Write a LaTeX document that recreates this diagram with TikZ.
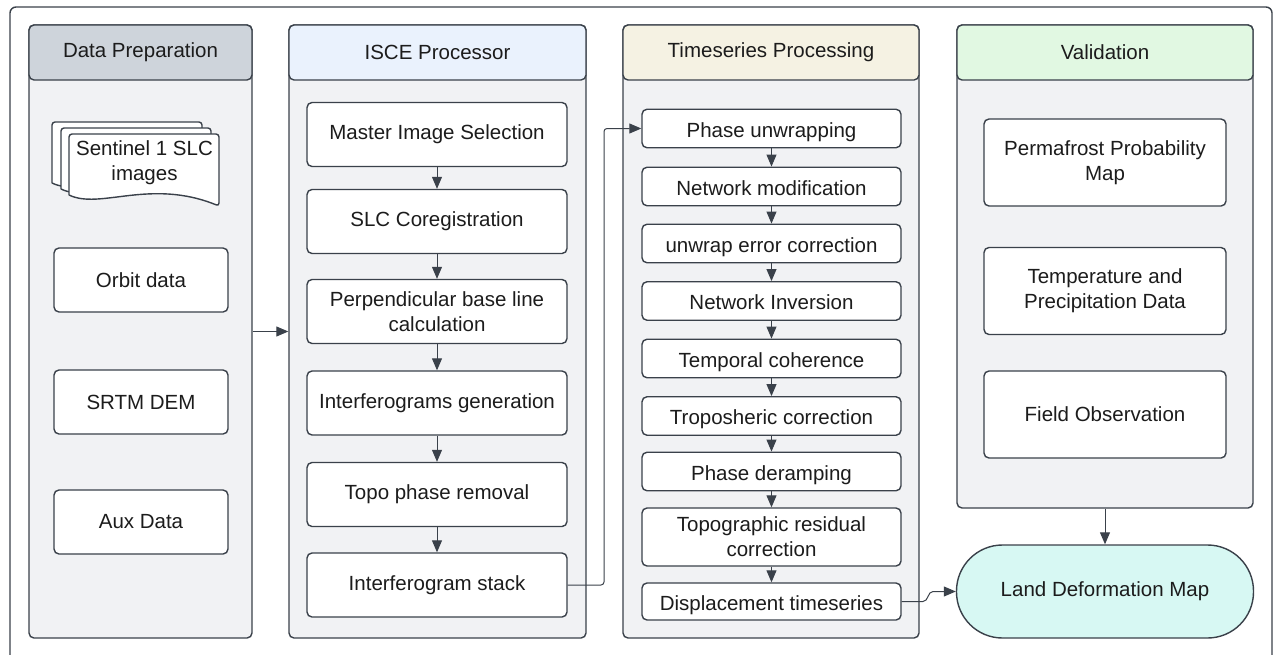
\documentclass[tikz,border=0pt]{standalone}
\usepackage{fontspec}
\setmainfont{Liberation Sans}
\usetikzlibrary{positioning, arrows.meta}
\definecolor{edge}{HTML}{3A414A}
\definecolor{txt}{HTML}{1C1C1C}
\definecolor{lanebg}{HTML}{F1F2F4}
\definecolor{dphead}{HTML}{CED4DB}
\definecolor{iscehead}{HTML}{EAF2FD}
\definecolor{tshead}{HTML}{F5F2E3}
\definecolor{valhead}{HTML}{E1F8E2}
\definecolor{landbg}{HTML}{D7F8F3}
\tikzset{
  every node/.style={font=\fontsize{20.5}{25}\selectfont, text=txt},
  lane/.style={draw=edge, line width=1.4pt, fill=lanebg, rounded corners=5pt, inner sep=0pt},
  head/.style={draw=edge, line width=1.4pt, rounded corners=5pt, minimum height=55pt, inner sep=0pt},
  stepbox/.style={draw=edge, line width=1.4pt, fill=white, rounded corners=5pt, align=center, inner sep=0pt},
  tsbox/.style={stepbox, minimum width=259pt, minimum height=38.5pt, text height=19pt, text depth=1.3pt},
  page/.style={draw=edge, line width=1.4pt, fill=white, rounded corners=3pt},
  arr/.style={draw=edge, line width=1pt, -{Triangle[length=12pt,width=10pt]}}}
% one sheet of the SLC stack, top left corner at (#1,#2)
\newcommand{\slcpage}[2]{\draw[page] (#1,#2+61) -- (#1,#2) -- (#1+150,#2) -- (#1+150,#2+72) .. controls (#1+81,#2+44) and (#1+31,#2+76) .. (#1,#2+61);}

\begin{document}
\begin{tikzpicture}[x=1pt,y=-1pt]
\clip (0,0) rectangle (1277,654);
\draw[edge, line width=1.4pt, rounded corners=6pt] (10,7) rectangle (1272,670);

% lanes
\node[lane, minimum width=223pt, minimum height=613pt] (dp) at (140.5,331.5) {};
\node[lane, minimum width=297pt, minimum height=613pt] (isce) at (437.5,331.5) {};
\node[lane, minimum width=296pt, minimum height=613pt] (ts) at (771,331.5) {};
\node[lane, minimum width=296pt, minimum height=483pt] (val) at (1105,266.5) {};
\node[head, fill=dphead, minimum width=223pt] (dph) at (140.5,52.5) {Data Preparation};
\node[head, fill=iscehead, minimum width=297pt] (isceh) at (437.5,52.5) {ISCE Processor};
\node[head, fill=tshead, minimum width=296pt] (tsh) at (771,52.5) {Timeseries Processing};
\node[head, fill=valhead, minimum width=296pt] (valh) at (1105,52.5) {Validation};

% data preparation
\slcpage{52}{122}
\slcpage{61}{128}
\slcpage{69}{134}
\node[align=center] (slc) at (144.5,163) {Sentinel 1 SLC\\images};
\node[stepbox, minimum width=174pt, minimum height=64pt] (orbit) at (141,280) {Orbit data};
\node[stepbox, minimum width=174pt, minimum height=64pt] (dem) at (141,402) {SRTM DEM};
\node[stepbox, minimum width=174pt, minimum height=64pt] (aux) at (141,522) {Aux Data};

% isce
\node[stepbox, minimum width=260pt, minimum height=64pt] (mis) at (437,134.5) {Master Image Selection};
\node[stepbox, minimum width=260pt, minimum height=64pt] (coreg) at (437,221.5) {SLC Coregistration};
\node[stepbox, minimum width=260pt, minimum height=64pt] (perp) at (437,311.5) {Perpendicular base line\\calculation};
\node[stepbox, minimum width=260pt, minimum height=64pt] (ifg) at (437,403) {Interferograms generation};
\node[stepbox, minimum width=260pt, minimum height=64pt] (topo) at (437,494.5) {Topo phase removal};
\node[stepbox, minimum width=260pt, minimum height=64pt] (stack) at (437,585) {Interferogram stack};

% timeseries
\node[tsbox] (pu) at (771.5,128.5) {Phase unwrapping};
\node[tsbox] (nm) at (771.5,186.5) {Network modification};
\node[tsbox] (ue) at (771.5,243.5) {unwrap error correction};
\node[tsbox] (ni) at (771.5,301) {Network Inversion};
\node[tsbox] (tc) at (771.5,358.5) {Temporal coherence};
\node[tsbox] (tr) at (771.5,416) {Troposheric correction};
\node[tsbox] (pd) at (771.5,471.5) {Phase deramping};
\node[stepbox, minimum width=259pt, minimum height=58pt] (trc) at (771.5,537) {Topographic residual\\correction};
\node[tsbox, minimum height=37pt] (ds) at (771.5,601.5) {Displacement timeseries};

% validation
\node[stepbox, minimum width=242pt, minimum height=87pt] (ppm) at (1105,162.5) {Permafrost Probability\\Map};
\node[stepbox, minimum width=242pt, minimum height=87pt] (tpd) at (1105,291) {Temperature and\\Precipitation Data};
\node[stepbox, minimum width=242pt, minimum height=87pt] (fo) at (1105,414.5) {Field Observation};
\node[stepbox, fill=landbg, rounded corners=46pt, minimum width=297pt, minimum height=93pt] (land) at (1105,591.5) {Land Deformation Map};

% connectors
\draw[arr] (dp) -- (isce);
\foreach \a/\b in {mis/coreg, coreg/perp, perp/ifg, ifg/topo, topo/stack}
  \draw[arr] (\a) -- (\b);
\foreach \a/\b in {pu/nm, nm/ue, ue/ni, ni/tc, tc/tr, tr/pd, pd/trc, trc/ds}
  \draw[arr] (\a) -- (\b);
\coordinate (jog) at (604,0);
\draw[arr, rounded corners=3pt] (stack.east) -| (jog |- pu.west) -- (pu.west);
\coordinate (kink) at (928,0);
\draw[arr] (ds.east) -- ([xshift=-5pt]kink |- ds.east) to[out=0,in=180] ([xshift=5pt]kink |- land.west) -- (land.west);
\draw[arr] (val) -- (land);
\end{tikzpicture}
\end{document}
